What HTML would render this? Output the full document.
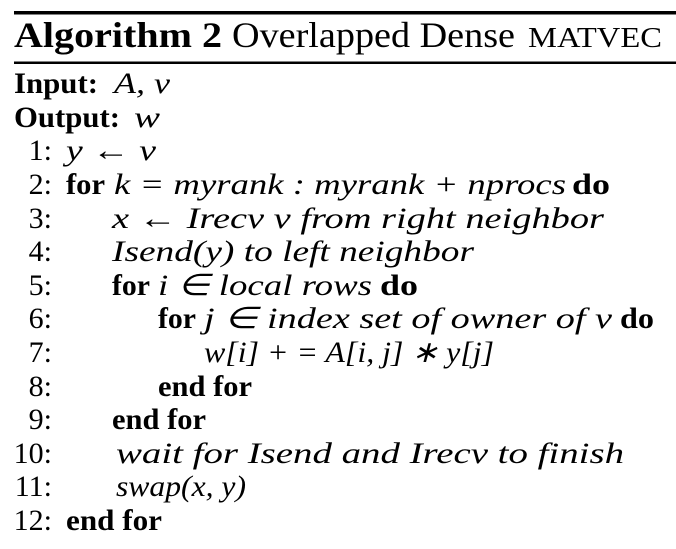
<!DOCTYPE html>
<html><head><meta charset="utf-8"><style>
html,body{margin:0;padding:0;background:#fff;}
svg, svg text{font-family:"Liberation Serif","Times New Roman",serif;}
svg{display:block;}
.b{font-weight:bold;} .i{font-style:italic;}
</style></head><body>
<svg width="676" height="549" viewBox="0 0 676 549" font-family="Liberation Serif, serif">
<rect x="14" y="11" width="662" height="3.5" fill="#000"/>
<rect x="14" y="61.5" width="662" height="2.5" fill="#000"/>
<g font-size="36">
<text x="14" y="47" class="b" textLength="208" lengthAdjust="spacingAndGlyphs">Algorithm 2</text>
<text x="232" y="47" textLength="283" lengthAdjust="spacingAndGlyphs">Overlapped Dense</text>
<text x="528" y="47" font-size="28" textLength="134" lengthAdjust="spacingAndGlyphs">MATVEC</text>
</g>
<g font-size="30">
<g>
<text x="14" y="93" class="b" textLength="84" lengthAdjust="spacingAndGlyphs">Input:</text>
<text x="114" y="93" class="i" textLength="56" lengthAdjust="spacingAndGlyphs">A, v</text>
</g>
<g>
<text x="14" y="127" class="b" textLength="106" lengthAdjust="spacingAndGlyphs">Output:</text>
<text x="134" y="127" class="i" textLength="26" lengthAdjust="spacingAndGlyphs">w</text>
</g>
<g text-anchor="end">
<text x="52" y="160">1:</text><text x="52" y="194">2:</text><text x="52" y="228">3:</text>
<text x="52" y="261">4:</text><text x="52" y="295">5:</text><text x="52" y="328">6:</text>
<text x="52" y="362">7:</text><text x="52" y="396">8:</text><text x="52" y="429">9:</text>
<text x="52" y="463">10:</text><text x="52" y="496">11:</text><text x="52" y="530">12:</text>
</g>
<g>
<text x="66" y="160" class="i" textLength="90" lengthAdjust="spacingAndGlyphs">y ← v</text>
<text x="66" y="194" class="b" textLength="39" lengthAdjust="spacingAndGlyphs">for</text>
<text x="114" y="194" class="i" textLength="452" lengthAdjust="spacingAndGlyphs">k = myrank : myrank + nprocs</text>
<text x="572" y="194" class="b" textLength="38" lengthAdjust="spacingAndGlyphs">do</text>
<text x="112" y="228" class="i" textLength="492" lengthAdjust="spacingAndGlyphs">x ←  Irecv v from right neighbor</text>
<text x="112" y="261" class="i" textLength="362" lengthAdjust="spacingAndGlyphs">Isend(y) to left neighbor</text>
<text x="112" y="295" class="b" textLength="38" lengthAdjust="spacingAndGlyphs">for</text>
<text x="158" y="295" class="i" textLength="214" lengthAdjust="spacingAndGlyphs">i ∈  local rows</text>
<text x="380" y="295" class="b" textLength="38" lengthAdjust="spacingAndGlyphs">do</text>
<text x="158" y="328" class="b" textLength="38" lengthAdjust="spacingAndGlyphs">for</text>
<text x="204" y="328" class="i" textLength="408" lengthAdjust="spacingAndGlyphs">j ∈ index set of owner of v</text>
<text x="620" y="328" class="b" textLength="34" lengthAdjust="spacingAndGlyphs">do</text>
<text x="204" y="362" class="i" textLength="290" lengthAdjust="spacingAndGlyphs">w[i] + = A[i, j] ∗ y[j]</text>
<text x="158" y="396" class="b" textLength="94" lengthAdjust="spacingAndGlyphs">end for</text>
<text x="112" y="429" class="b" textLength="94" lengthAdjust="spacingAndGlyphs">end for</text>
<text x="116" y="463" class="i" textLength="508" lengthAdjust="spacingAndGlyphs">wait for Isend and Irecv to finish</text>
<text x="116" y="496" class="i" textLength="130" lengthAdjust="spacingAndGlyphs">swap(x, y)</text>
<text x="66" y="530" class="b" textLength="96" lengthAdjust="spacingAndGlyphs">end for</text>
</g>
</g>
</svg>
</body></html>
